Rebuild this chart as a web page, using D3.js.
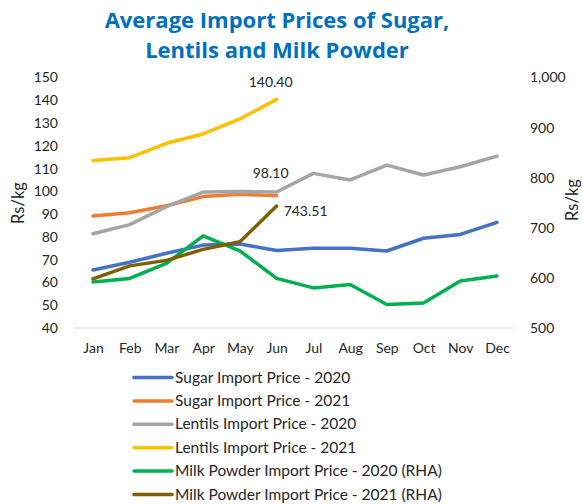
<!DOCTYPE html>
<html><head><meta charset="utf-8">
<script src="https://cdn.jsdelivr.net/npm/d3@7"></script>
<style>body{margin:0;background:#fff}svg{display:block;font-family:Lato,"Open Sans",sans-serif}</style>
</head><body><svg id="c" width="582" height="504"></svg>
<script>
const months = ["Jan","Feb","Mar","Apr","May","Jun","Jul","Aug","Sep","Oct","Nov","Dec"];
const sugar2020 = [65.5,68.9,72.8,76.4,76.9,74.0,75.0,75.0,73.8,79.4,81.1,86.4];
const sugar2021 = [89.2,90.6,93.7,97.7,98.7,98.1];
const lentils2020 = [81.4,85.4,93.3,99.7,99.9,99.7,107.9,105.0,111.5,107.2,110.8,115.5];
const lentils2021 = [113.6,114.8,121.1,125.2,131.8,140.40];
const milk2020 = [592,599,629,684,654,599,580,587,547,550,594,604];
const milk2021 = [598,624,635,657,672,743.51];
const leftTicks = [40,50,60,70,80,90,100,110,120,130,140,150];
const rightTicks = [500,600,700,800,900,1000];
const seriesNames = ["Sugar Import Price - 2020","Sugar Import Price - 2021","Lentils Import Price - 2020","Lentils Import Price - 2021","Milk Powder Import Price - 2020 (RHA)","Milk Powder Import Price - 2021 (RHA)"];
const colors = ["#4472C4","#ED7D31","#A5A5A5","#FFC000","#00B050","#7F6000"];

const series = [
  {name:seriesNames[0], values:sugar2020, axis:"L", color:colors[0]},
  {name:seriesNames[1], values:sugar2021, axis:"L", color:colors[1]},
  {name:seriesNames[2], values:lentils2020, axis:"L", color:colors[2]},
  {name:seriesNames[3], values:lentils2021, axis:"L", color:colors[3]},
  {name:seriesNames[4], values:milk2020, axis:"R", color:colors[4]},
  {name:seriesNames[5], values:milk2021, axis:"R", color:colors[5]}
];

const svg = d3.select("#c");
const x = d3.scalePoint().domain(months).range([93,497]);
const yL = d3.scaleLinear().domain([40,150]).range([328,77.5]);
const yR = d3.scaleLinear().domain([500,1000]).range([328,77.5]);

// title
const title = svg.append("text").attr("text-anchor","middle").attr("fill","#0070C0")
  .attr("font-weight","bold").attr("font-size",22).attr("font-family","'Open Sans',sans-serif");
title.append("tspan").attr("x",277).attr("y",28).text("Average Import Prices of Sugar,");
title.append("tspan").attr("x",277).attr("y",58).text("Lentils and Milk Powder");

// baseline
svg.append("line").attr("x1",74).attr("x2",513).attr("y1",328).attr("y2",328)
  .attr("stroke","#D9D9D9").attr("stroke-width",1);

// axes
const axL = svg.append("g").attr("transform","translate(64,0)")
  .call(d3.axisLeft(yL).tickValues(leftTicks).tickSize(0).tickPadding(6));
const axR = svg.append("g").attr("transform","translate(524,0)")
  .call(d3.axisRight(yR).tickValues(rightTicks).tickSize(0).tickPadding(6).tickFormat(d3.format(",")));
const axX = svg.append("g").attr("transform","translate(0,328)")
  .call(d3.axisBottom(x).tickSize(0).tickPadding(15));
[axL,axR,axX].forEach(g=>{
  g.select(".domain").remove();
  g.selectAll("text").attr("font-size",14).attr("fill","#262626").attr("font-family","Lato,'Open Sans',sans-serif");
});

// axis titles
svg.append("text").attr("transform","translate(24,203) rotate(-90)").attr("text-anchor","middle")
  .attr("font-size",16.5).attr("fill","#262626").text("Rs/kg");
svg.append("text").attr("transform","translate(578,200) rotate(-90)").attr("text-anchor","middle")
  .attr("font-size",16.5).attr("fill","#262626").text("Rs/kg");

// lines
series.forEach(s=>{
  const y = s.axis==="L"?yL:yR;
  const line = d3.line().x((d,i)=>x(months[i])).y(d=>y(d));
  svg.append("path").datum(s.values).attr("d",line).attr("fill","none")
    .attr("stroke",s.color).attr("stroke-width",3.5).attr("stroke-linejoin","round").attr("stroke-linecap","round");
});

// data labels
const lab = (txt, xx, yy, anchor)=>svg.append("text").attr("x",xx).attr("y",yy).attr("text-anchor",anchor)
  .attr("font-size",14).attr("fill","#262626").text(txt);
lab(d3.format(".2f")(lentils2021[5]), x("Jun")-6, yL(lentils2021[5])-12, "middle");
lab(d3.format(".2f")(sugar2021[5]), x("Jun")-6, yL(sugar2021[5])-18, "middle");
lab(d3.format(".2f")(milk2021[5]), x("Jun")+7, yR(milk2021[5])+10, "start");

// legend
const lg = svg.append("g");
series.forEach((s,i)=>{
  const yy = 377.5 + i*23.4;
  lg.append("line").attr("x1",134).attr("x2",172).attr("y1",yy).attr("y2",yy)
    .attr("stroke",s.color).attr("stroke-width",3.5).attr("stroke-linecap","round");
  lg.append("text").attr("x",175).attr("y",yy+5).attr("font-size",15.5).attr("fill","#262626").text(s.name);
});
</script></body></html>
